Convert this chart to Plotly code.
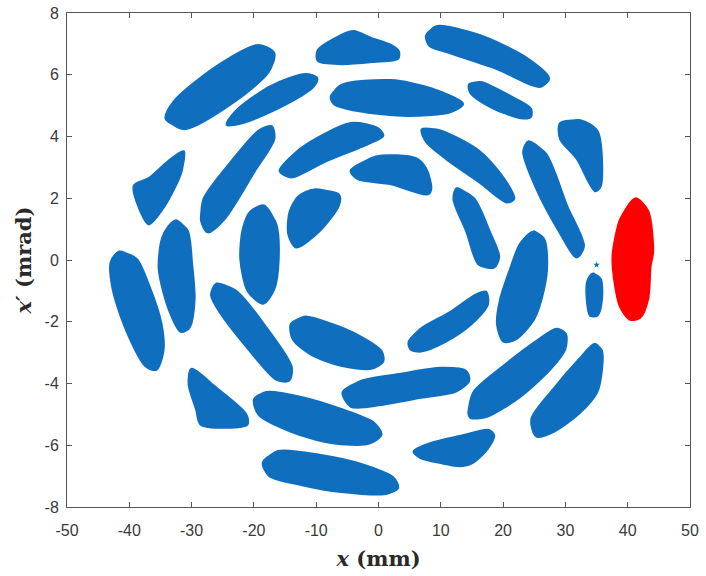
import plotly.graph_objects as go

# Blob outlines (x in mm, x' in mrad)
blob_A_x = [-34.1, -31.2, -23.2, -17.7, -16.8, -19.3, -25.7, -32.8]
blob_A_y = [4.58, 4.25, 5.13, 6.10, 6.69, 6.95, 6.30, 5.13]
blob_B_x = [-24.3, -21.3, -14.8, -10.5, -9.9, -11.7, -17.3, -22.9]
blob_B_y = [4.38, 4.48, 5.06, 5.62, 5.88, 6.01, 5.62, 4.81]
blob_C_x = [-9.7, -6.0, -4.0, -1.2, 2.0, 3.2, 3.1, -0.8, -6.0, -9.7]
blob_C_y = [6.79, 7.27, 7.40, 7.18, 6.95, 6.75, 6.53, 6.43, 6.36, 6.46]
blob_D_x = [7.7, 9.3, 16.2, 23.8, 27.3, 25.9, 19.0, 10.9, 8.2]
blob_D_y = [7.27, 7.56, 7.27, 6.53, 5.88, 5.62, 6.20, 6.75, 6.95]
blob_E_x = [-7.6, -6.0, 2.0, 8.4, 13.5, 11.6, 4.7, -3.3, -7.1]
blob_E_y = [5.29, 5.65, 5.81, 5.55, 5.06, 4.81, 4.68, 4.84, 5.06]
blob_F_x = [14.6, 16.4, 21.2, 24.4, 24.4, 22.8, 18.0, 14.8]
blob_F_y = [5.68, 5.75, 5.29, 4.90, 4.64, 4.61, 4.97, 5.42]
blob_G_x = [29.2, 32.4, 35.1, 35.6, 34.8, 31.9, 29.2]
blob_G_y = [4.42, 4.51, 4.16, 2.40, 2.24, 3.28, 3.93]
blob_H_x = [24.1, 26.8, 30.2, 32.9, 31.8, 29.1, 25.4, 23.3]
blob_H_y = [3.83, 3.44, 1.75, 0.45, 0.10, 0.91, 2.31, 3.51]
blob_I_x = [7.0, 9.8, 16.2, 20.1, 21.7, 20.6, 16.2, 10.9, 7.7]
blob_I_y = [4.22, 4.19, 3.51, 2.63, 1.98, 1.88, 2.53, 3.28, 3.83]
blob_J_x = [-4.4, -0.4, 6.0, 7.6, 8.4, 7.9, 2.0, -3.3]
blob_J_y = [2.89, 3.34, 3.28, 2.95, 2.31, 2.14, 2.47, 2.63]
blob_K_x = [-15.8, -12.5, -4.4, -0.1, 0.7, -1.7, -8.8, -14.0]
blob_K_y = [2.89, 3.60, 4.42, 4.25, 4.03, 3.77, 3.18, 2.69]
blob_L_x = [-28.4, -28.0, -23.2, -19.3, -17.2, -16.8, -20.0, -24.8, -27.4]
blob_L_y = [1.27, 1.98, 3.28, 4.16, 4.32, 3.93, 2.86, 1.33, 0.91]
blob_M_x = [-31.3, -31.7, -34.4, -36.9, -38.1, -39.2, -36.9, -33.8]
blob_M_y = [3.51, 2.86, 1.75, 1.17, 1.56, 2.40, 2.63, 3.18]
blob_N_x = [-10.3, -6.4, -6.4, -9.2, -13.2, -14.4, -14.2, -12.8]
blob_N_y = [2.27, 2.11, 1.79, 1.01, 0.42, 0.84, 1.56, 2.05]
blob_O_x = [-18.4, -16.5, -16.1, -16.8, -18.5, -20.9, -22.1, -21.7, -20.5]
blob_O_y = [1.75, 1.17, 0.03, -0.94, -1.40, -1.01, 0.03, 1.01, 1.56]
blob_P_x = [-32.5, -30.7, -30.0, -29.6, -30.4, -31.7, -33.6, -35.2, -34.7, -33.7]
blob_P_y = [1.27, 0.94, -0.13, -1.27, -2.18, -2.31, -1.59, -0.29, 0.68, 1.07]
blob_Q_x = [-41.6, -38.9, -36.8, -34.9, -34.6, -35.7, -37.3, -40.5, -42.6, -42.9]
blob_Q_y = [0.26, 0.03, -0.88, -2.08, -2.95, -3.54, -3.44, -2.24, -0.94, -0.06]
blob_R_x = [-26.0, -22.9, -18.1, -14.0, -14.4, -16.4, -20.8, -25.2, -26.8]
blob_R_y = [-0.78, -1.01, -2.18, -3.47, -3.90, -3.86, -2.89, -1.75, -1.14]
blob_S_x = [-30.0, -26.8, -21.3, -21.1, -24.4, -28.5, -29.2, -30.4]
blob_S_y = [-3.54, -4.03, -5.00, -5.32, -5.42, -5.32, -4.84, -4.03]
blob_T_x = [-19.9, -18.0, -12.4, -6.0, -0.9, 0.4, -1.6, -7.6, -14.0, -19.2]
blob_T_y = [-4.51, -4.29, -4.45, -4.84, -5.26, -5.65, -5.94, -5.91, -5.55, -5.00]
blob_U_x = [-18.5, -16.1, -9.3, -2.8, 2.3, 3.1, 1.2, -6.0, -12.4, -17.5]
blob_U_y = [-6.56, -6.20, -6.33, -6.62, -7.05, -7.37, -7.56, -7.50, -7.27, -6.98]
blob_V_x = [-14.0, -11.9, -7.6, -2.8, 0.4, 0.7, -1.2, -6.0, -10.8, -13.7]
blob_V_y = [-2.08, -1.85, -2.08, -2.50, -2.95, -3.28, -3.51, -3.41, -3.05, -2.56]
blob_W_x = [-5.7, -2.8, 3.6, 10.0, 14.0, 14.5, 12.4, 6.8, 0.4, -4.4]
blob_W_y = [-4.29, -3.93, -3.70, -3.51, -3.60, -3.90, -4.25, -4.45, -4.68, -4.74]
blob_X_x = [4.9, 6.8, 11.6, 15.6, 17.2, 17.5, 14.8, 10.8, 6.8, 5.2]
blob_X_y = [-2.66, -2.24, -1.69, -1.14, -1.04, -1.43, -2.08, -2.63, -2.95, -2.89]
blob_Y_x = [5.7, 8.4, 13.2, 17.7, 18.5, 17.5, 15.3, 13.2, 10.0, 6.8]
blob_Y_y = [-6.20, -5.94, -5.71, -5.52, -5.68, -6.10, -6.53, -6.66, -6.56, -6.40]
blob_Z1_x = [14.5, 15.3, 20.1, 25.4, 28.6, 30.0, 29.9, 27.5, 22.7, 17.4, 14.8]
blob_Z1_y = [-4.94, -4.29, -3.44, -2.63, -2.24, -2.40, -2.89, -3.54, -4.42, -5.06, -5.10]
blob_Z2_x = [34.7, 35.8, 35.8, 35.0, 32.3, 28.1, 25.4, 24.6, 28.1, 32.3]
blob_Z2_y = [-2.73, -2.95, -3.54, -4.29, -4.94, -5.55, -5.71, -5.16, -4.19, -3.21]
blob_Z3_x = [24.9, 26.5, 27.0, 26.5, 24.9, 22.0, 20.1, 19.1, 19.6, 21.2, 22.8]
blob_Z3_y = [0.91, 0.68, -0.13, -0.94, -1.92, -2.56, -2.63, -2.08, -1.27, -0.29, 0.52]
blob_Z4_x = [34.4, 35.6, 35.8, 35.1, 34.0, 33.5, 33.6]
blob_Z4_y = [-0.45, -0.62, -1.27, -1.79, -1.79, -1.27, -0.68]
blob_AA_x = [12.6, 15.3, 17.8, 19.3, 18.5, 16.1, 14.2, 12.1]
blob_AA_y = [2.31, 1.98, 0.91, 0.10, -0.23, -0.13, 0.91, 1.98]
stray_x = [35.0]
stray_y = [-0.16]

# Red (injected) beam outline
red_x = [41.2, 38.9, 37.7, 37.7, 38.8, 40.4, 42.0, 43.2, 43.6, 44.0, 43.2]
red_y = [1.98, 1.33, 0.26, -0.29, -1.49, -1.92, -1.85, -1.27, -0.19, 0.26, 1.59]

x_ticks = [-50, -40, -30, -20, -10, 0, 10, 20, 30, 40, 50]
y_ticks = [-8, -6, -4, -2, 0, 2, 4, 6, 8]

BLUE = "#0F6EBE"
RED = "#FF0000"

blue_blobs = [
    (blob_A_x, blob_A_y), (blob_B_x, blob_B_y), (blob_C_x, blob_C_y),
    (blob_D_x, blob_D_y), (blob_E_x, blob_E_y), (blob_F_x, blob_F_y),
    (blob_G_x, blob_G_y), (blob_H_x, blob_H_y), (blob_I_x, blob_I_y),
    (blob_J_x, blob_J_y), (blob_K_x, blob_K_y), (blob_L_x, blob_L_y),
    (blob_M_x, blob_M_y), (blob_N_x, blob_N_y), (blob_O_x, blob_O_y),
    (blob_P_x, blob_P_y), (blob_Q_x, blob_Q_y), (blob_R_x, blob_R_y),
    (blob_S_x, blob_S_y), (blob_T_x, blob_T_y), (blob_U_x, blob_U_y),
    (blob_V_x, blob_V_y), (blob_W_x, blob_W_y), (blob_X_x, blob_X_y),
    (blob_Y_x, blob_Y_y), (blob_Z1_x, blob_Z1_y), (blob_Z2_x, blob_Z2_y),
    (blob_Z3_x, blob_Z3_y), (blob_Z4_x, blob_Z4_y), (blob_AA_x, blob_AA_y),
]


def blob_trace(bx, by, color):
    # wrap the first two vertices again so the smoothed outline closes without a kink
    return go.Scatter(
        x=bx + bx[:2], y=by + by[:2], mode="lines", fill="toself",
        fillcolor=color, line=dict(color=color, width=3, shape="spline", smoothing=0.8),
        hoverinfo="skip", showlegend=False)


fig = go.Figure()
for bx, by in blue_blobs:
    fig.add_trace(blob_trace(bx, by, BLUE))
fig.add_trace(go.Scatter(
    x=stray_x, y=stray_y, mode="markers",
    marker=dict(color=BLUE, size=5, symbol="star"), hoverinfo="skip", showlegend=False))
fig.add_trace(blob_trace(red_x, red_y, RED))

axis_common = dict(
    showgrid=False, zeroline=False, showline=True, linecolor="#555555", linewidth=1,
    mirror="ticks", ticks="inside", ticklen=5, tickcolor="#555555", automargin=False,
    tickfont=dict(family="Liberation Sans, Arial, sans-serif", size=16, color="#3a3a3a"),
)
title_font = dict(family="DejaVu Serif, serif", size=21, color="#2a2a2a")

fig.update_layout(
    width=706, height=576,
    margin=dict(l=67, r=16, t=13, b=69),
    paper_bgcolor="white", plot_bgcolor="white",
    hovermode=False,
    xaxis=dict(range=[-50, 50], tickvals=x_ticks, ticktext=[str(v) for v in x_ticks],
               ticklabelstandoff=9,
               title=dict(text="<b><i>x</i> (mm)</b>", standoff=13, font=title_font),
               **axis_common),
    yaxis=dict(range=[-8, 8], tickvals=y_ticks, ticktext=[str(v) for v in y_ticks],
               ticklabelstandoff=4,
               title=dict(text="<b><i>x′</i> (mrad)</b>", standoff=7, font=title_font),
               **axis_common),
)

fig.write_html("out.html", config={"displayModeBar": False},
               post_script="document.body.style.margin='0';")
